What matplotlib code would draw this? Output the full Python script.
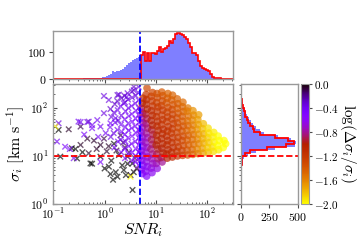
import numpy as np
import matplotlib
matplotlib.use("Agg")
import matplotlib.pyplot as plt
from matplotlib.colors import Normalize
from matplotlib.cm import ScalarMappable

plt.rcParams['font.family'] = 'serif'
plt.rcParams['font.serif'] = ['cmr10', 'DejaVu Serif']
plt.rcParams['mathtext.fontset'] = 'cm'
plt.rcParams['axes.formatter.use_mathtext'] = True

# ---------------- data ----------------
# circles: spectra with SNR > 5
circ_snr = [
    5.4, 5.2, 5.6, 5.3, 5.5, 5.2, 5.6, 5.3, 5.5, 5.2, 5.4, 5.6, 5.3, 5.5, 5.2, 5.4, 5.6,
    6.6, 6.3, 6.8, 6.5, 6.9, 6.4, 6.7, 6.3, 6.8, 6.5, 6.9, 6.4, 6.7, 6.3, 6.8, 6.5, 6.6, 6.4, 6.7,
    8.4, 8.1, 8.7, 8.3, 8.6, 8.0, 8.5, 8.2, 8.8, 8.3, 8.6, 8.1, 8.5, 8.2, 8.7, 8.4, 8.1, 8.6,
    10.6, 10.2, 11.0, 10.4, 10.9, 10.1, 10.7, 10.3, 11.1, 10.5, 10.8, 10.2, 10.6, 10.9, 10.3, 10.7, 10.5,
    13.2, 12.7, 13.8, 13.0, 13.6, 12.8, 13.4, 13.9, 12.9, 13.5, 13.1, 13.7, 12.8, 13.3, 13.6, 13.0,
    16.6, 16.1, 17.3, 16.4, 17.0, 16.2, 16.8, 17.4, 16.3, 16.9, 16.5, 17.2, 16.0, 16.7, 17.1,
    20.9, 20.2, 21.7, 20.5, 21.3, 20.1, 21.0, 21.8, 20.4, 21.2, 20.7, 21.5, 20.3, 21.1,
    26.3, 25.6, 27.3, 26.0, 26.9, 25.7, 27.1, 26.4, 25.8, 27.0, 26.2, 26.7, 26.0,
    33.1, 32.2, 34.4, 32.7, 33.8, 32.3, 34.0, 33.3, 32.5, 34.2, 33.0, 33.6,
    41.7, 40.5, 43.2, 41.0, 42.7, 40.3, 42.2, 41.4, 43.0, 40.8, 41.9,
    52.5, 51.0, 54.4, 51.7, 53.8, 50.8, 53.2, 52.0, 54.0, 52.7,
    66, 64, 68.5, 65, 67.8, 64.3, 67, 65.6, 68,
    83, 81, 86, 82, 85, 81.5, 84,
    105, 102, 108, 103, 107, 104,
    132, 128, 136, 130, 134,
    166, 160, 172, 163,
    205, 228, 212,
]
circ_sigma = [
    4.3, 5.2, 6.4, 8.1, 10.2, 12.8, 16, 20, 25, 31, 39, 49, 62, 78, 98, 125, 160,
    3.8, 4.8, 6.0, 7.6, 9.5, 12, 15, 19, 24, 30, 38, 47, 60, 75, 95, 120, 150, 190, 260,
    4.5, 5.6, 7.0, 8.8, 11, 14, 17.5, 22, 28, 35, 44, 55, 70, 88, 110, 140, 175, 210,
    5.5, 7.0, 8.8, 11, 14, 17, 21, 27, 34, 42, 53, 66, 84, 105, 130, 165, 200,
    7.5, 9.3, 11.5, 14.5, 18, 23, 29, 36, 45, 57, 71, 90, 112, 140, 180, 215,
    9.0, 11, 13.5, 17, 21, 26, 33, 41, 52, 65, 82, 102, 128, 160, 200,
    9.5, 12, 15, 19, 24, 30, 37, 47, 59, 74, 93, 117, 147, 185,
    10, 12.5, 15.5, 19.5, 24.5, 31, 39, 49, 62, 78, 98, 123, 155,
    10.3, 13, 16.5, 21, 26, 33, 42, 53, 67, 84, 106, 132,
    10.5, 13.3, 17, 21.5, 27, 34, 43, 54, 68, 86, 100,
    10.8, 13.7, 17.5, 22, 28, 35, 44, 56, 71, 88,
    11.2, 14, 18, 22.5, 28.5, 36, 45, 57, 72,
    11.5, 14.5, 18.5, 23, 29, 37, 47,
    12, 15, 19, 24, 30, 38,
    12.5, 15.5, 19.5, 25, 31,
    13.5, 16.5, 21, 26,
    15, 18, 21,
]
circ_logerr = [
    -0.5, -0.55, -0.5, -0.55, -0.6, -0.55, -0.6, -0.6, -0.65, -0.65, -0.7, -0.75, -0.8, -0.85, -0.9, -1.0, -1.1,
    -0.55, -0.6, -0.6, -0.65, -0.7, -0.7, -0.7, -0.75, -0.75, -0.8, -0.85, -0.85, -0.9, -0.95, -1.0, -1.05, -1.1, -1.2, -1.3,
    -0.6, -0.65, -0.7, -0.75, -0.8, -0.85, -0.85, -0.9, -0.9, -0.95, -1.0, -1.0, -1.05, -1.1, -1.15, -1.2, -1.25, -1.3,
    -0.65, -0.75, -0.85, -0.9, -0.95, -1.0, -1.0, -1.05, -1.05, -1.1, -1.1, -1.15, -1.15, -1.2, -1.25, -1.3, -1.35,
    -0.8, -0.9, -1.0, -1.0, -1.05, -1.05, -1.1, -1.1, -1.15, -1.15, -1.2, -1.2, -1.25, -1.3, -1.35, -1.4,
    -1.0, -1.05, -1.05, -1.1, -1.1, -1.1, -1.15, -1.15, -1.2, -1.2, -1.25, -1.3, -1.35, -1.4, -1.45,
    -1.05, -1.1, -1.1, -1.15, -1.15, -1.2, -1.2, -1.2, -1.25, -1.25, -1.3, -1.35, -1.4, -1.45,
    -1.15, -1.15, -1.2, -1.2, -1.25, -1.25, -1.3, -1.3, -1.3, -1.35, -1.4, -1.4, -1.45,
    -1.25, -1.25, -1.3, -1.3, -1.3, -1.35, -1.35, -1.4, -1.4, -1.45, -1.45, -1.5,
    -1.35, -1.35, -1.4, -1.4, -1.4, -1.45, -1.45, -1.5, -1.5, -1.55, -1.55,
    -1.45, -1.45, -1.5, -1.5, -1.5, -1.55, -1.55, -1.6, -1.6, -1.65,
    -1.55, -1.6, -1.6, -1.6, -1.65, -1.65, -1.7, -1.7, -1.7,
    -1.7, -1.7, -1.75, -1.75, -1.75, -1.8, -1.8,
    -1.8, -1.85, -1.85, -1.85, -1.9, -1.9,
    -1.9, -1.9, -1.95, -1.95, -1.95,
    -1.95, -2.0, -2.0, -2.0,
    -2.0, -2.0, -2.0,
]

# crosses: spectra with SNR < 5
cross_snr = [
    0.127, 0.20, 0.34, 0.23, 0.34, 0.137, 0.29, 0.53, 0.49, 0.83,
    1.21, 1.78, 1.46, 2.37, 3.5, 3.2, 0.62, 0.97, 1.52, 1.9,
    2.8, 2.05, 3.5, 1.65, 2.2, 2.8, 3.7, 0.27, 0.37, 0.57,
    0.46, 0.83, 1.35, 1.1, 2.5, 1.7, 3.0, 1.3, 2.6, 4.2,
    0.7, 1.0, 2.3, 3.9, 1.2,
    0.118, 0.127, 0.17, 0.25, 0.31, 0.49, 0.72, 0.57, 0.83, 0.97,
    1.78, 1.21, 2.8, 3.7, 2.37, 1.63, 1.3, 0.97, 1.9, 2.7,
    3.7, 4.6, 0.34, 0.46, 0.57, 0.4, 0.83, 0.21, 1.05, 0.75,
    1.32, 1.28, 1.35, 1.3,
    1.55, 1.5, 1.6, 1.52, 1.58,
    1.82, 1.78, 1.85, 1.8, 1.76,
    2.1, 2.05, 2.15, 2.08, 2.12, 2.04, 2.14,
    2.5, 2.45, 2.55, 2.48, 2.52, 2.46, 2.56, 2.5, 2.44,
    2.9, 2.95, 2.86, 2.92, 2.88, 2.96, 2.9, 2.85,
    3.4, 3.45, 3.35, 3.42, 3.38, 3.46, 3.4, 3.36, 3.44, 3.4,
    4.0, 3.95, 4.05, 3.98, 4.08, 3.94, 4.02, 4.06, 3.96, 4.04,
    4.6, 4.55, 4.65, 4.58, 4.62, 4.52, 4.66, 4.56, 4.64, 4.6, 4.5,
    4.9, 4.85, 4.92, 4.88, 4.95, 4.86, 4.9,
    0.11, 3.2,
]
cross_sigma = [
    35, 36, 41, 14.5, 17, 9.7, 8.9, 7.0, 11.4, 9.7,
    6.0, 3.7, 3.2, 5.1, 1.96, 4.0, 21, 23, 18, 10.5,
    9.7, 27, 7, 4.6, 6.4, 6.9, 4.6, 14, 12, 6.9,
    23, 17, 8.0, 12.5, 15, 13, 12, 4.2, 4.0, 5.5,
    14, 5.5, 19, 9, 16,
    20, 48, 15.6, 9.0, 52, 52, 56, 38, 41, 78,
    186, 147, 203, 277, 125, 61, 48, 178, 190, 170,
    235, 275, 51, 51, 44, 28, 7.5, 14, 30, 25,
    25, 40, 65, 95,
    15, 30, 50, 80, 120,
    20, 35, 55, 90, 140,
    12, 22, 32, 45, 70, 110, 160,
    9, 14, 20, 28, 40, 58, 85, 130, 180,
    11, 16, 24, 34, 48, 68, 100, 150,
    8, 12, 18, 26, 38, 52, 75, 110, 165, 220,
    7.5, 10, 14, 20, 30, 42, 60, 88, 125, 180,
    6.5, 9, 12, 17, 24, 35, 50, 72, 100, 145, 210,
    8, 13, 20, 28, 40, 60, 85,
    41, 3.7,
]
cross_logerr = [
    0.0, -0.05, -0.1, 0.0, -0.05, 0.0, 0.0, 0.0, -0.05, 0.0,
    0.0, 0.0, 0.0, 0.0, 0.0, -0.05, -0.05, -0.1, 0.0, 0.0,
    -0.05, -0.1, 0.0, 0.0, 0.0, 0.0, 0.0, 0.0, 0.0, 0.0,
    -0.05, -0.05, 0.0, -0.05, -0.1, -0.05, -0.1, 0.0, 0.0, -0.05,
    -0.05, 0.0, -0.1, -0.1, -0.05,
    -0.4, -0.35, -0.45, -0.4, -0.4, -0.35, -0.4, -0.45, -0.4, -0.35,
    -0.3, -0.35, -0.35, -0.3, -0.4, -0.4, -0.45, -0.35, -0.35, -0.4,
    -0.35, -0.35, -0.4, -0.35, -0.4, -0.45, -0.45, -0.4, -0.4, -0.45,
    -0.35, -0.4, -0.35, -0.3,
    -0.4, -0.35, -0.4, -0.35, -0.3,
    -0.45, -0.4, -0.35, -0.4, -0.3,
    -0.45, -0.4, -0.45, -0.4, -0.35, -0.4, -0.3,
    -0.5, -0.45, -0.4, -0.45, -0.4, -0.45, -0.4, -0.35, -0.3,
    -0.5, -0.45, -0.5, -0.45, -0.4, -0.45, -0.4, -0.35,
    -0.5, -0.5, -0.45, -0.5, -0.45, -0.5, -0.45, -0.4, -0.35, -0.3,
    -0.55, -0.5, -0.5, -0.45, -0.5, -0.45, -0.5, -0.45, -0.4, -0.35,
    -0.55, -0.55, -0.5, -0.55, -0.5, -0.5, -0.45, -0.5, -0.45, -0.4, -0.35,
    -0.55, -0.5, -0.55, -0.5, -0.55, -0.5, -0.45,
    -2.0, -2.0,
]

# SNR histogram (bins of 0.04 dex starting at 10**-1.02)
snr_counts_all = [
    0, 0, 1, 0, 0, 0, 0, 1, 0, 0, 0, 1, 0, 0, 1,
    2, 4, 3, 4, 2, 4, 3, 5, 4, 6,
    8, 10, 14, 20, 28, 27, 28, 30, 34, 38,
    46, 50, 58, 62, 72, 75, 78, 80,
    90, 100, 68, 98, 68, 95, 98, 92, 103, 118,
    100, 110, 115, 122, 140, 132, 150, 168, 170, 167,
    162, 155, 148, 135, 120, 95, 95, 88, 68, 48,
    42, 38, 35, 28, 18, 8, 3, 2, 2,
    0, 0, 0, 0, 0, 0, 0,
]
snr_counts_hi = [
    0, 0, 0, 0, 0, 0, 0, 0, 0, 0, 0, 0, 0, 0, 0,
    0, 0, 0, 0, 0, 0, 0, 0, 0, 0,
    0, 0, 0, 0, 0, 0, 0, 0, 0, 0,
    0, 0, 0, 0, 0, 0, 0, 0,
    90, 100, 68, 98, 68, 95, 98, 92, 103, 118,
    100, 110, 115, 122, 140, 132, 150, 168, 170, 167,
    162, 155, 148, 135, 120, 95, 95, 88, 68, 48,
    42, 38, 35, 28, 18, 8, 3, 2, 2,
    0, 0, 0, 0, 0, 0, 0,
]
# sigma histogram (bins of 0.0625 dex starting at 1 km/s)
sig_counts_all = [
    0, 0, 0, 0, 0, 1, 2, 3, 4,
    5, 7, 9, 12, 16, 20, 26,
    60, 130, 300, 480, 485, 440, 330, 200, 165, 130,
    105, 85, 70, 55, 45, 38, 22, 16, 10, 7,
    5, 4, 2, 1,
]
sig_counts_hi = [
    0, 0, 0, 0, 0, 0, 0, 0, 0,
    1, 2, 3, 4, 6, 8, 12,
    35, 80, 230, 400, 468, 415, 300, 167, 120, 108,
    80, 65, 55, 40, 35, 30, 15, 12, 6, 5,
    4, 3, 2, 1,
]

snr_cut = 5
sigma_cut = 10
cbar_ticks = [0.0, -0.4, -0.8, -1.2, -1.6, -2.0]

# ---------------- figure ----------------
snr_edges = 10 ** (-1.02 + 0.04 * np.arange(len(snr_counts_all) + 1))
sig_edges = 10 ** (0.0625 * np.arange(len(sig_counts_all) + 1))

fig = plt.figure(figsize=(3.6, 2.4), dpi=100)
ax = fig.add_axes([0.148, 0.15, 0.499, 0.5])
axt = fig.add_axes([0.148, 0.671, 0.499, 0.2], sharex=ax)
axr = fig.add_axes([0.669, 0.15, 0.158, 0.5], sharey=ax)
cax = fig.add_axes([0.837, 0.15, 0.02, 0.5])

cmap = plt.get_cmap('gnuplot_r')
norm = Normalize(vmin=-2.0, vmax=0.0)

ax.scatter(circ_snr, circ_sigma, c=circ_logerr, cmap=cmap, norm=norm,
           s=30, marker='o', alpha=0.7, edgecolors='none')
ax.scatter(cross_snr, cross_sigma, c=cross_logerr, cmap=cmap, norm=norm,
           s=16, marker='x', alpha=0.65, linewidths=1.0)
ax.set_xscale('log')
ax.set_yscale('log')
ax.set_xlim(0.1, 10 ** 2.5)
ax.set_ylim(1, 10 ** 2.5)
dash = (0, (3.5, 1.5))
ax.axvline(snr_cut, color='blue', ls=dash, lw=1.3)
ax.axhline(sigma_cut, color='red', ls=dash, lw=1.3)
ax.set_xlabel(r'$SNR_i$', fontsize=11.5, labelpad=-1)
ax.set_ylabel(r'$\sigma_i\ [\mathrm{km\ s^{-1}}]$', fontsize=11.5, labelpad=2)

# top histogram
axt.bar(snr_edges[:-1], snr_counts_all, width=np.diff(snr_edges), align='edge',
        color='blue', alpha=0.5, linewidth=0)
axt.stairs(snr_counts_hi, snr_edges, color='red', lw=1.2)
axt.axvline(snr_cut, color='blue', ls=dash, lw=1.3)
axt.set_ylim(0, 178)
axt.set_yticks([0, 100])
axt.tick_params(axis='x', labelbottom=False)

# right histogram
axr.barh(sig_edges[:-1], sig_counts_all, height=np.diff(sig_edges), align='edge',
         color='blue', alpha=0.5, linewidth=0)
axr.stairs(sig_counts_hi, sig_edges, orientation='horizontal', color='red', lw=1.3)
axr.axhline(sigma_cut, color='red', ls=dash, lw=1.3)
axr.set_xlim(0, 500)
axr.set_xticks([0, 250, 500])
axr.tick_params(axis='y', labelleft=False)

# colorbar
sm = ScalarMappable(norm=norm, cmap=cmap)
cb = fig.colorbar(sm, cax=cax, ticks=cbar_ticks)
cb.set_label(r'$\log(\Delta\sigma_i/\sigma_i)$', rotation=270, fontsize=11, labelpad=14)
cb.outline.set_edgecolor('0.6')
cax.tick_params(labelsize=8, length=2.5, width=0.8, color='0.3', pad=1.5)

for a in (ax, axt, axr):
    for sp in a.spines.values():
        sp.set_color('0.6')
        sp.set_linewidth(1.0)
    a.tick_params(which='major', labelsize=8.5, length=3, width=0.8, color='0.3', pad=2)
    a.tick_params(which='minor', length=1.5, width=0.6, color='0.3')
ax.tick_params(which='both', direction='in')
ax.tick_params(axis='x', which='major', pad=2.5)
ax.tick_params(axis='y', which='major', pad=3.5)

fig.savefig('out.png', dpi=100)
